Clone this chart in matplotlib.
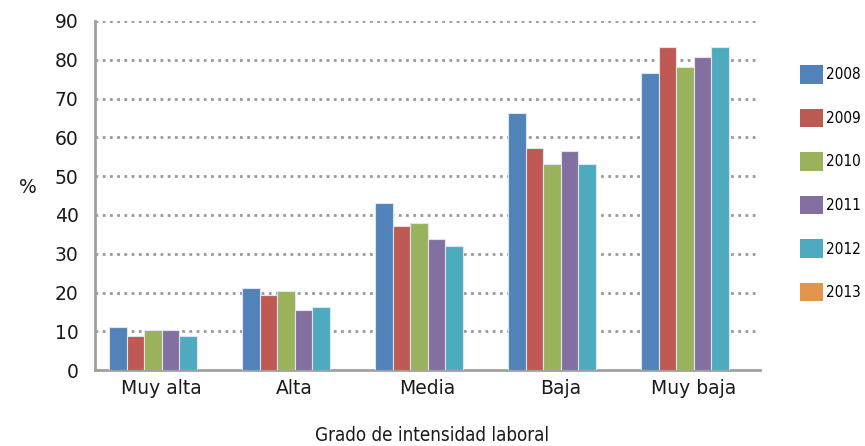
import numpy as np
import matplotlib.pyplot as plt
from matplotlib.patches import Patch

# Data
categories = ["Muy alta", "Alta", "Media", "Baja", "Muy baja"]
years = ["2008", "2009", "2010", "2011", "2012", "2013"]
v2008 = [11.2, 21.1, 43.0, 66.2, 76.5]
v2009 = [8.7, 19.5, 37.1, 57.2, 83.2]
v2010 = [10.4, 20.4, 38.0, 53.1, 78.2]
v2011 = [10.4, 15.4, 33.8, 56.4, 80.6]
v2012 = [8.7, 16.2, 32.1, 53.1, 83.2]
v2013 = [None, None, None, None, None]  # en la leyenda, sin barras

series = [v2008, v2009, v2010, v2011, v2012, v2013]
colors = ["#5182BA", "#BE5A53", "#9BB25C", "#8470A0", "#4EAABF", "#E3964B"]

fig = plt.figure(figsize=(8.65, 4.46), dpi=100)
ax = fig.add_axes([0.11, 0.17, 0.769, 0.783])

x = np.arange(len(categories))
group_w = 0.79
w = group_w / len(series)
handles = []
for i, (vals, c) in enumerate(zip(series, colors)):
    h = np.array([np.nan if v is None else v for v in vals], dtype=float)
    pos = x - group_w / 2 + w * (i + 0.5)
    ax.bar(pos, h, width=w, color=c, edgecolor="#DDE6F0", linewidth=0.8, zorder=3)
    handles.append(Patch(facecolor=c, edgecolor="none"))

ax.set_xlim(-0.5, len(categories) - 0.5)
ax.set_ylim(0, 90)
ax.set_yticks(range(0, 91, 10))
ax.set_xticks(x)
ax.set_xticklabels(categories)
ax.tick_params(axis="both", labelsize=13.5, length=0, colors="#1A1A1A")
ax.tick_params(axis="y", pad=12)
ax.tick_params(axis="x", pad=6)

for y in range(10, 91, 10):
    ax.axhline(y, color="#9A9A9A", linewidth=2, linestyle=(0, (1, 1.6)), zorder=1)

for s in ["top", "right"]:
    ax.spines[s].set_visible(False)
for s in ["left", "bottom"]:
    ax.spines[s].set_color("#A0A0A0")
    ax.spines[s].set_linewidth(2)

fig.text(0.022, 0.58, "%", fontsize=13.5, color="#1A1A1A", ha="left", va="center")
fig.text(0.5, 0.003, "Grado de intensidad laboral", fontsize=13.5, stretch="condensed",
         color="#1A1A1A", ha="center", va="bottom")

fig.legend(handles, years, loc="upper left", bbox_to_anchor=(0.9175, 0.868),
           frameon=False, handlelength=1.5, handleheight=1.5, handletextpad=0.25,
           labelspacing=1.63, borderaxespad=0,
           prop={"stretch": "condensed", "size": 11})

fig.savefig("out.png", dpi=100)
